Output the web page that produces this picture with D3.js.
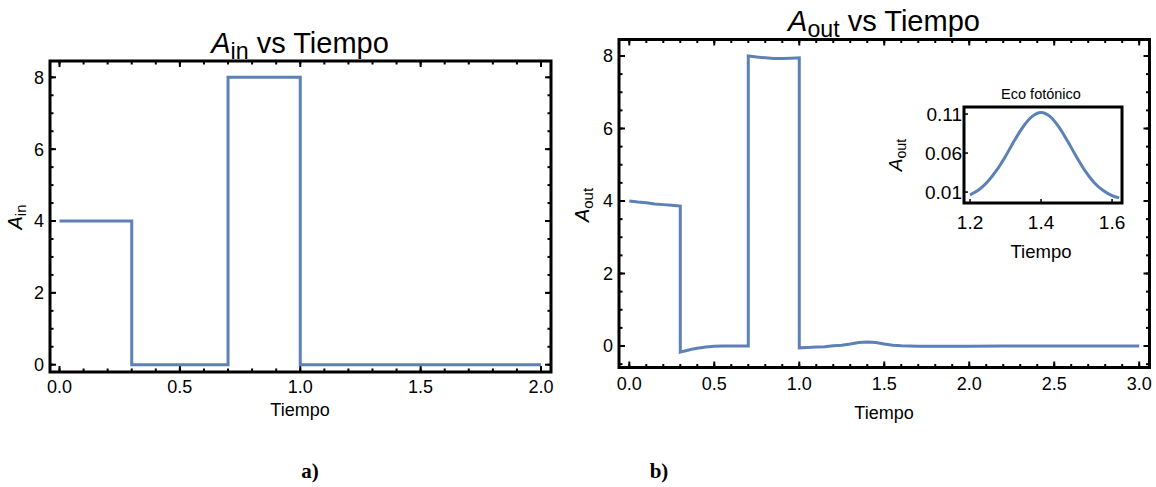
<!DOCTYPE html>
<html>
<head>
<meta charset="utf-8">
<script src="https://d3js.org/d3.v7.min.js"></script>
<style>
  body { margin: 0; background: #fff; }
  svg text { font-family: "Liberation Sans", Arial, sans-serif; fill: #000; }
</style>
</head>
<body>
<div class="chart"></div>
<script>
// --- data ---
var ainT = [0, 0.3, 0.3, 0.7, 0.7, 1.0, 1.0, 2.0];
var ainV = [4, 4, 0, 0, 8, 8, 0, 0];

var aoutT = [0, 0.05, 0.1, 0.15, 0.2, 0.25, 0.3, 0.3, 0.325, 0.35, 0.375, 0.4, 0.45, 0.5, 0.55, 0.6, 0.7,
             0.7, 0.75, 0.8, 0.85, 0.9, 0.95, 1.0, 1.0, 1.05, 1.1, 1.15, 1.2, 1.25, 1.3, 1.35, 1.4, 1.45,
             1.5, 1.55, 1.6, 1.65, 1.7, 1.8, 1.9, 2.0, 2.2, 2.4, 2.6, 2.8, 3.0];
var aoutV = [4.0, 3.97, 3.95, 3.92, 3.9, 3.88, 3.86, -0.17, -0.14, -0.11, -0.08, -0.06, -0.03, -0.01, 0.0, 0.0, 0.0,
             8.0, 7.97, 7.95, 7.93, 7.93, 7.94, 7.95, -0.05, -0.04, -0.03, -0.02, 0.007, 0.024, 0.056, 0.094, 0.112, 0.094,
             0.056, 0.024, 0.007, 0.0, -0.006, -0.008, -0.006, -0.004, -0.002, 0.0, 0.0, 0.0, 0.0];

var ecoT = [1.2, 1.225, 1.25, 1.275, 1.3, 1.325, 1.35, 1.375, 1.4, 1.425, 1.45, 1.475, 1.5, 1.525, 1.55, 1.575, 1.6, 1.62];
var ecoV = [0.0065, 0.013, 0.0235, 0.038, 0.056, 0.076, 0.094, 0.107, 0.112, 0.107, 0.0935, 0.075, 0.055, 0.0365, 0.022, 0.012, 0.0055, 0.0025];

var ainXTicks = [0, 0.5, 1.0, 1.5, 2.0];
var ainYTicks = [0, 2, 4, 6, 8];
var aoutXTicks = [0, 0.5, 1.0, 1.5, 2.0, 2.5, 3.0];
var aoutYTicks = [0, 2, 4, 6, 8];
var ecoXTicks = [1.2, 1.4, 1.6];
var ecoYTicks = [0.01, 0.06, 0.11];

var blue = "#5e81b5";
var w = 1156, h = 487;

var svg = d3.select(".chart").append("svg")
  .attr("width", w).attr("height", h);

function zip(t, v) { return t.map(function(d, i) { return [d, v[i]]; }); }

// a framed Mathematica-style panel
function panel(o) {
  var x = d3.scaleLinear().domain(o.xd).range([o.x0, o.x1]);
  var y = d3.scaleLinear().domain(o.yd).range([o.y1, o.y0]);
  var g = svg.append("g");

  var minX = o.xMinor ? o.xMinor.filter(function(d) { return d >= o.xd[0] && d <= o.xd[1]; }) : [];
  var minY = o.yMinor ? o.yMinor.filter(function(d) { return d >= o.yd[0] && d <= o.yd[1]; }) : [];
  var tk = g.append("g").attr("stroke", "#000").attr("stroke-width", o.tickW || 2);
  function ticksX(vals, len) {
    vals.forEach(function(v) {
      tk.append("line").attr("x1", x(v)).attr("x2", x(v)).attr("y1", o.y1).attr("y2", o.y1 - len);
      if (o.mirror) tk.append("line").attr("x1", x(v)).attr("x2", x(v)).attr("y1", o.y0).attr("y2", o.y0 + len);
    });
  }
  function ticksY(vals, len) {
    vals.forEach(function(v) {
      tk.append("line").attr("x1", o.x0).attr("x2", o.x0 + len).attr("y1", y(v)).attr("y2", y(v));
      if (o.mirror) tk.append("line").attr("x1", o.x1).attr("x2", o.x1 - len).attr("y1", y(v)).attr("y2", y(v));
    });
  }
  ticksX(o.xTicks, o.major); ticksX(minX, o.minor);
  ticksY(o.yTicks, o.major); ticksY(minY, o.minor);

  var line = d3.line().x(function(d) { return x(d[0]); }).y(function(d) { return y(d[1]); })
    .curve(o.curve || d3.curveLinear);
  g.append("path").datum(o.data)
    .attr("fill", "none").attr("stroke", blue).attr("stroke-width", o.lineW || 3)
    .attr("stroke-linejoin", "miter").attr("d", line);

  g.append("rect").attr("x", o.x0).attr("y", o.y0)
    .attr("width", o.x1 - o.x0).attr("height", o.y1 - o.y0)
    .attr("fill", "none").attr("stroke", "#000").attr("stroke-width", 3);

  g.selectAll(".xl").data(o.xTicks).enter().append("text")
    .attr("x", function(d) { return x(d); }).attr("y", o.y1 + o.xLabDy)
    .attr("text-anchor", "middle").attr("font-size", o.fs)
    .text(function(d) { return d3.format(o.xFmt)(d); });
  g.selectAll(".yl").data(o.yTicks).enter().append("text")
    .attr("x", o.x0 - o.yLabDx).attr("y", function(d) { return y(d) + o.fs * 0.36; })
    .attr("text-anchor", "end").attr("font-size", o.fs)
    .text(function(d) { return d3.format(o.yFmt)(d); });
  return g;
}

function subLabel(g, px, py, fs, sub, rotate, rest, subScale) {
  var t = g.append("text").attr("font-size", fs).attr("text-anchor", "middle")
    .attr("transform", "translate(" + px + "," + py + ")" + (rotate ? " rotate(-90)" : ""));
  t.append("tspan").attr("font-style", "italic").text("A");
  t.append("tspan").attr("font-size", fs * (subScale || 0.72)).attr("dy", fs * 0.22).text(sub);
  if (rest) t.append("tspan").attr("dy", -fs * 0.22).text(rest);
  return t;
}

// a) A_in
var gA = panel({
  x0: 50, x1: 551, y0: 61, y1: 372,
  xd: [-0.0395, 2.0415], yd: [-0.203, 8.454],
  xTicks: ainXTicks, yTicks: ainYTicks,
  xMinor: d3.range(0, 2.01, 0.1), yMinor: d3.range(-0.5, 8.6, 0.5),
  major: 6, minor: 3.5, mirror: true,
  data: zip(ainT, ainV), fs: 18, xLabDy: 21, yLabDx: 6, xFmt: ".1f", yFmt: "d"
});
subLabel(gA, 300, 53, 29, "in", false, " vs Tiempo", 0.8);
subLabel(gA, 22, 217, 20, "in", true, null, 0.75);
gA.append("text").attr("x", 300).attr("y", 416).attr("text-anchor", "middle").attr("font-size", 18).text("Tiempo");

// b) A_out
var gB = panel({
  x0: 619, x1: 1149.5, y0: 39.5, y1: 367.5,
  xd: [-0.0606, 3.0606], yd: [-0.593, 8.455],
  xTicks: aoutXTicks, yTicks: aoutYTicks,
  xMinor: d3.range(0, 3.01, 0.1), yMinor: d3.range(-0.5, 8.6, 0.5),
  major: 6, minor: 3.5, mirror: true,
  data: zip(aoutT, aoutV), fs: 18, xLabDy: 22.5, yLabDx: 6, xFmt: ".1f", yFmt: "d"
});
subLabel(gB, 884, 31, 29, "out", false, " vs Tiempo", 0.8);
subLabel(gB, 589, 205, 20, "out", true, null, 0.75);
gB.append("text").attr("x", 884).attr("y", 419).attr("text-anchor", "middle").attr("font-size", 18).text("Tiempo");

// inset: Eco fotónico
svg.append("rect").attr("x", 964).attr("y", 107).attr("width", 158).attr("height", 96).attr("fill", "#fff");
var gC = panel({
  x0: 964, x1: 1122, y0: 107, y1: 203,
  xd: [1.183, 1.628], yd: [-0.004, 0.119],
  xTicks: ecoXTicks, yTicks: ecoYTicks,
  major: 4, minor: 2, mirror: false, tickW: 1.5,
  data: zip(ecoT, ecoV), curve: d3.curveMonotoneX, fs: 19, xLabDy: 26, yLabDx: 2, xFmt: ".1f", yFmt: ".2f"
});
gC.append("text").attr("x", 1041).attr("y", 99).attr("text-anchor", "middle").attr("font-size", 14.5).text("Eco fotónico");
subLabel(gC, 902, 155, 19, "out", true, null, 0.75);
gC.append("text").attr("x", 1041).attr("y", 258).attr("text-anchor", "middle").attr("font-size", 18.5).text("Tiempo");

// sub-figure letters
svg.append("text").attr("x", 310).attr("y", 478).attr("text-anchor", "middle")
  .style("font-family", "'Liberation Serif', 'Times New Roman', serif").attr("font-weight", "bold").attr("font-size", 21).text("a)");
svg.append("text").attr("x", 659).attr("y", 478).attr("text-anchor", "middle")
  .style("font-family", "'Liberation Serif', 'Times New Roman', serif").attr("font-weight", "bold").attr("font-size", 21).text("b)");
</script>
</body>
</html>
